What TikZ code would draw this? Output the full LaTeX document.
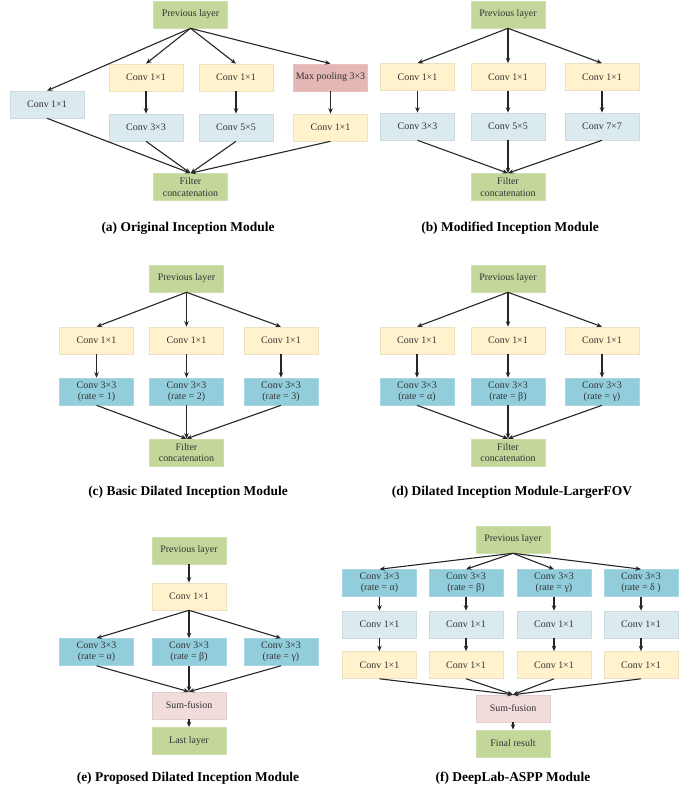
\documentclass[tikz,border=0pt]{standalone}
\usepackage{fontspec}
\setmainfont{Liberation Serif}
\usetikzlibrary{arrows.meta}
\definecolor{cgreen}{HTML}{C4D79B}
\definecolor{cyellow}{HTML}{FFF2CC}
\definecolor{clblue}{HTML}{DBEAEF}
\definecolor{cblue}{HTML}{92CDDC}
\definecolor{cred}{HTML}{E3B7B6}
\definecolor{cpink}{HTML}{F2DCDB}
\tikzset{
  box/.style={rectangle, minimum width=74bp, minimum height=27bp, inner sep=0pt,
    font=\fontsize{10}{11.5}\selectfont, text=black!80, align=center, line width=0.6bp},
  gbox/.style={box, fill=cgreen, draw=cgreen!80!white},
  ybox/.style={box, fill=cyellow, draw=cyellow!85!gray},
  lbbox/.style={box, fill=clblue, draw=clblue!85!gray},
  bbox/.style={box, fill=cblue, draw=cblue!80!white},
  rbox/.style={box, fill=cred, draw=cred!85!white},
  pbox/.style={box, fill=cpink, draw=cpink!85!gray},
  arr/.style={-{Stealth[length=5.5bp,width=4.5bp]}, line width=1.1bp, draw=black!85},
  captext/.style={font=\fontsize{13.5}{15}\selectfont\bfseries, text=black, inner sep=0pt}
}
\begin{document}
\begin{tikzpicture}[x=1bp,y=-1bp]
\useasboundingbox (0,0) rectangle (690,793);
% (a)
\node[gbox] (a0) at (190.5,14.5) {Previous layer};
\node[lbbox] (a1) at (47,104.5) {Conv 1×1};
\node[ybox] (a2) at (146,77.5) {Conv 1×1};
\node[ybox] (a3) at (236,77.5) {Conv 1×1};
\node[rbox] (a4) at (330.5,77.5) {Max pooling 3×3};
\node[lbbox] (a5) at (146,127.5) {Conv 3×3};
\node[lbbox] (a6) at (236,127.5) {Conv 5×5};
\node[ybox] (a7) at (330.5,127.5) {Conv 1×1};
\node[gbox] (a8) at (190.5,187) {Filter\\concatenation};
\node[captext] (acap) at (188,228) {(a) Original Inception Module};
\foreach \t in {a1,a2,a3,a4} \draw[arr] (a0.south) -- (\t.north);
\draw[arr] (a2) -- (a5);
\draw[arr] (a3) -- (a6);
\draw[arr] (a4) -- (a7);
\foreach \s in {a1,a5,a6,a7} \draw[arr] (\s.south) -- (a8.north);
% (b)
\node[gbox] (b0) at (508,14.5) {Previous layer};
\node[ybox] (b1) at (417.5,77) {Conv 1×1};
\node[ybox] (b2) at (508,77) {Conv 1×1};
\node[ybox] (b3) at (602,77) {Conv 1×1};
\node[lbbox] (b4) at (417.5,126.5) {Conv 3×3};
\node[lbbox] (b5) at (508,126.5) {Conv 5×5};
\node[lbbox] (b6) at (602,126.5) {Conv 7×7};
\node[gbox] (b7) at (508,187) {Filter\\concatenation};
\node[captext] (bcap) at (510,228) {(b) Modified Inception Module};
\foreach \t in {b1,b2,b3} \draw[arr] (b0.south) -- (\t.north);
\draw[arr] (b1) -- (b4);
\draw[arr] (b2) -- (b5);
\draw[arr] (b3) -- (b6);
\foreach \s in {b4,b5,b6} \draw[arr] (\s.south) -- (b7.north);
% (c)
\node[gbox] (c0) at (186.5,278.5) {Previous layer};
\node[ybox] (c1) at (96.5,340.5) {Conv 1×1};
\node[ybox] (c2) at (186.5,340.5) {Conv 1×1};
\node[ybox] (c3) at (281,340.5) {Conv 1×1};
\node[bbox] (c4) at (96.5,391.5) {Conv 3×3\\(rate = 1)};
\node[bbox] (c5) at (186.5,391.5) {Conv 3×3\\(rate = 2)};
\node[bbox] (c6) at (281,391.5) {Conv 3×3\\(rate = 3)};
\node[gbox] (c7) at (186.5,452.5) {Filter\\concatenation};
\node[captext] (ccap) at (188,492) {(c) Basic Dilated Inception Module};
\foreach \t in {c1,c2,c3} \draw[arr] (c0.south) -- (\t.north);
\draw[arr] (c1) -- (c4);
\draw[arr] (c2) -- (c5);
\draw[arr] (c3) -- (c6);
\foreach \s in {c4,c5,c6} \draw[arr] (\s.south) -- (c7.north);
% (d)
\node[gbox] (d0) at (508,278.5) {Previous layer};
\node[ybox] (d1) at (417,340.5) {Conv 1×1};
\node[ybox] (d2) at (508,340.5) {Conv 1×1};
\node[ybox] (d3) at (602,340.5) {Conv 1×1};
\node[bbox] (d4) at (417,391.5) {Conv 3×3\\(rate = α)};
\node[bbox] (d5) at (508,391.5) {Conv 3×3\\(rate = β)};
\node[bbox] (d6) at (602,391.5) {Conv 3×3\\(rate = γ)};
\node[gbox] (d7) at (508,452.5) {Filter\\concatenation};
\node[captext] (dcap) at (512,492) {(d) Dilated Inception Module-LargerFOV};
\foreach \t in {d1,d2,d3} \draw[arr] (d0.south) -- (\t.north);
\draw[arr] (d1) -- (d4);
\draw[arr] (d2) -- (d5);
\draw[arr] (d3) -- (d6);
\foreach \s in {d4,d5,d6} \draw[arr] (\s.south) -- (d7.north);
% (e)
\node[gbox] (e0) at (189,550.5) {Previous layer};
\node[ybox] (e1) at (189,596.5) {Conv 1×1};
\node[bbox] (e2) at (96.5,652) {Conv 3×3\\(rate = α)};
\node[bbox] (e3) at (189,652) {Conv 3×3\\(rate = β)};
\node[bbox] (e4) at (281,652) {Conv 3×3\\(rate = γ)};
\node[pbox] (e5) at (189,705.5) {Sum-fusion};
\node[gbox] (e6) at (189,741) {Last layer};
\node[captext] (ecap) at (188,778) {(e) Proposed Dilated Inception Module};
\draw[arr] (e0) -- (e1);
\foreach \t in {e2,e3,e4} \draw[arr] (e1.south) -- (\t.north);
\foreach \s in {e2,e3,e4} \draw[arr] (\s.south) -- (e5.north);
\draw[arr] (e5) -- (e6);
% (f)
\node[gbox] (f0) at (513,539.5) {Previous layer};
\node[bbox] (f1) at (379.5,583) {Conv 3×3\\(rate = α)};
\node[bbox] (f2) at (466,583) {Conv 3×3\\(rate = β)};
\node[bbox] (f3) at (554,583) {Conv 3×3\\(rate = γ)};
\node[bbox] (f4) at (641,583) {Conv 3×3\\(rate = δ )};
\node[lbbox] (f5) at (379.5,624.5) {Conv 1×1};
\node[lbbox] (f6) at (466,624.5) {Conv 1×1};
\node[lbbox] (f7) at (554,624.5) {Conv 1×1};
\node[lbbox] (f8) at (641,624.5) {Conv 1×1};
\node[ybox] (f9) at (379.5,665) {Conv 1×1};
\node[ybox] (f10) at (466,665) {Conv 1×1};
\node[ybox] (f11) at (554,665) {Conv 1×1};
\node[ybox] (f12) at (641,665) {Conv 1×1};
\node[pbox] (f13) at (513,708.5) {Sum-fusion};
\node[gbox] (f14) at (513,743.5) {Final result};
\node[captext] (fcap) at (513,778) {(f) DeepLab-ASPP Module};
\foreach \t in {f1,f2,f3,f4} \draw[arr] (f0.south) -- (\t.north);
\draw[arr] (f1) -- (f5); \draw[arr] (f2) -- (f6); \draw[arr] (f3) -- (f7); \draw[arr] (f4) -- (f8);
\draw[arr] (f5) -- (f9); \draw[arr] (f6) -- (f10); \draw[arr] (f7) -- (f11); \draw[arr] (f8) -- (f12);
\foreach \s in {f9,f10,f11,f12} \draw[arr] (\s.south) -- (f13.north);
\draw[arr] (f13) -- (f14);
\end{tikzpicture}
\end{document}
